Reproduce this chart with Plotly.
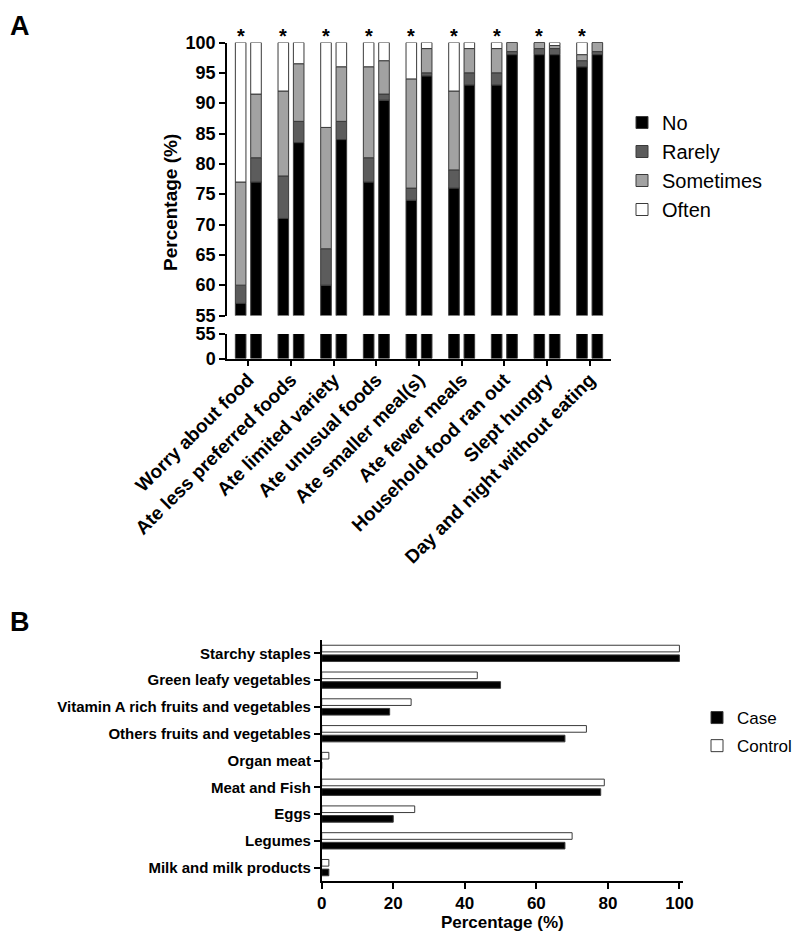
import plotly.graph_objects as go

# Target image size; the page body adds an 8px margin, so the figure is drawn slightly smaller
W, H = 800, 942
OFF = 8
FW, FH = W - OFF, H - OFF

# ---------------- Panel A data ----------------
items = ["Worry about food", "Ate less preferred foods", "Ate limited variety",
         "Ate unusual foods", "Ate smaller meal(s)", "Ate fewer meals",
         "Household food ran out", "Slept hungry", "Day and night without eating"]
responses = ["No", "Rarely", "Sometimes", "Often"]

case_no = [57, 71, 60, 77, 74, 76, 93, 98, 96]
case_rarely = [3, 7, 6, 4, 2, 3, 2, 1, 1]
case_sometimes = [17, 14, 20, 15, 18, 13, 4, 1, 1]
case_often = [23, 8, 14, 4, 6, 8, 1, 0, 2]

control_no = [77, 83.5, 84, 90.5, 94.5, 93, 98, 98, 98]
control_rarely = [4, 3.5, 3, 1, 0.5, 2, 0.5, 1, 0.5]
control_sometimes = [10.5, 9.5, 9, 5.5, 4, 4, 1.5, 0.5, 1.5]
control_often = [8.5, 3.5, 4, 3, 1, 1, 0, 0.5, 0]

significant = [True, True, True, True, True, True, True, True, True]

upper_ticks = [55, 60, 65, 70, 75, 80, 85, 90, 95, 100]
lower_ticks = [0, 55]

# ---------------- Panel B data ----------------
food_groups = ["Starchy staples", "Green leafy vegetables",
               "Vitamin A rich fruits and vegetables", "Others fruits and vegetables",
               "Organ meat", "Meat and Fish", "Eggs", "Legumes", "Milk and milk products"]
case_pct = [100, 50, 19, 68, 0, 78, 20, 68, 2]
control_pct = [100, 43.5, 25, 74, 2, 79, 26, 70, 2]
b_ticks = [0, 20, 40, 60, 80, 100]

# ---------------- styling ----------------
FONT = "Liberation Sans, Arial, sans-serif"
colors = {"No": "#000000", "Rarely": "#5c5c5c", "Sometimes": "#a2a2a2", "Often": "#ffffff"}
OUTLINE = dict(color="#3a3a3a", width=1)

def px_x(p):
    return (p - OFF) / FW

def px_y(p):
    return 1 - (p - OFF) / FH

fig = go.Figure()

case_vals = {"No": case_no, "Rarely": case_rarely, "Sometimes": case_sometimes, "Often": case_often}
ctrl_vals = {"No": control_no, "Rarely": control_rarely, "Sometimes": control_sometimes, "Often": control_often}

def stack_bases(vals):
    bases = {}
    run = [0] * len(items)
    for r in responses:
        bases[r] = list(run)
        run = [a + b for a, b in zip(run, vals[r])]
    return bases

case_base = stack_bases(case_vals)
ctrl_base = stack_bases(ctrl_vals)

for i, r in enumerate(responses):
    fig.add_trace(go.Bar(x=items, y=case_vals[r], base=case_base[r], name=r,
                         offsetgroup="case", marker=dict(color=colors[r], line=OUTLINE),
                         xaxis="x", yaxis="y", legend="legend", legendgroup=r,
                         legendrank=i + 1, showlegend=True))
    fig.add_trace(go.Bar(x=items, y=ctrl_vals[r], base=ctrl_base[r], name=r,
                         offsetgroup="control", marker=dict(color=colors[r], line=OUTLINE),
                         xaxis="x", yaxis="y", legendgroup=r, showlegend=False))

# lower (broken) segment: 0-55
fig.add_trace(go.Bar(x=items, y=case_no, name="No", offsetgroup="case",
                     marker=dict(color=colors["No"], line=OUTLINE),
                     xaxis="x", yaxis="y2", legendgroup="No", showlegend=False))
fig.add_trace(go.Bar(x=items, y=control_no, name="No", offsetgroup="control",
                     marker=dict(color=colors["No"], line=OUTLINE),
                     xaxis="x", yaxis="y2", legendgroup="No", showlegend=False))

# Panel B
fig.add_trace(go.Bar(y=food_groups, x=control_pct, name="Control", orientation="h",
                     offsetgroup="ctrl", marker=dict(color="#ffffff", line=OUTLINE),
                     xaxis="x2", yaxis="y3", legend="legend2", legendrank=2,
                     legendgroup="Control"))
fig.add_trace(go.Bar(y=food_groups, x=case_pct, name="Case", orientation="h",
                     offsetgroup="case", marker=dict(color="#000000", line=OUTLINE),
                     xaxis="x2", yaxis="y3", legend="legend2", legendrank=1,
                     legendgroup="Case"))

# geometry (target pixels)
ax_left, ax_right = 227, 611
up_top, up_bot = 42.5, 315.5
lo_top, lo_bot = 334, 358.5
bargap = 0.28

axis_common = dict(showline=True, linecolor="black", linewidth=1.5, ticks="outside",
                   ticklen=6, tickwidth=1.5, tickcolor="black", showgrid=False,
                   zeroline=False, mirror=False)

fig.update_layout(
    width=FW, height=FH, margin=dict(l=0, r=0, t=0, b=0, autoexpand=False),
    plot_bgcolor="white", paper_bgcolor="white",
    font=dict(family=FONT, color="black"),
    barmode="group", bargap=bargap, bargroupgap=0.31,
    xaxis=dict(domain=[px_x(ax_left), px_x(ax_right)], anchor="y2", type="category",
               tickangle=-45, tickfont=dict(size=19, weight="bold", family=FONT),
               ticklabelstandoff=-5,
               range=[-0.5, len(items) - 0.5], **axis_common),
    yaxis=dict(domain=[px_y(up_bot), px_y(up_top)], anchor="x", range=[55, 100],
               tickvals=upper_ticks, tickfont=dict(size=18, weight="bold", family=FONT),
               **axis_common),
    yaxis2=dict(domain=[px_y(lo_bot), px_y(lo_top)], anchor="x", range=[0, 55],
                tickvals=lower_ticks, tickfont=dict(size=18, weight="bold", family=FONT),
                **axis_common),
    xaxis2=dict(domain=[px_x(321.7), px_x(683)], anchor="y3", range=[0, 101],
                tickvals=b_ticks, tickfont=dict(size=17, weight="bold", family=FONT),
                title=dict(text="Percentage (%)", font=dict(size=17, weight="bold", family=FONT),
                           standoff=3),
                **axis_common),
    yaxis3=dict(domain=[px_y(881), px_y(640)], anchor="x2", type="category",
                range=[len(food_groups) - 0.5, -0.5],
                tickfont=dict(size=15, weight="bold", family=FONT), **axis_common),
    legend=dict(x=px_x(622), y=px_y(103), xanchor="left", yanchor="top",
                font=dict(size=20, family=FONT), traceorder="grouped", tracegroupgap=0,
                bgcolor="rgba(0,0,0,0)"),
    legend2=dict(x=px_x(697), y=px_y(700), xanchor="left", yanchor="top",
                 font=dict(size=17, family=FONT), traceorder="grouped", tracegroupgap=3,
                 bgcolor="rgba(0,0,0,0)"),
)

annotations = []
cat_w = (ax_right - ax_left) / len(items)
case_shift = -(1 - bargap) * cat_w / 4
for it, sig in zip(items, significant):
    if sig:
        annotations.append(dict(x=it, y=100, xref="x", yref="y", text="<b>*</b>",
                                showarrow=False, yanchor="bottom", xshift=case_shift,
                                yshift=-7, font=dict(size=20, family=FONT)))
annotations.append(dict(x=px_x(170), y=px_y(203), xref="paper", yref="paper",
                        text="<b>Percentage (%)</b>", textangle=-90, showarrow=False,
                        xanchor="center", yanchor="middle",
                        font=dict(size=19, family=FONT)))
annotations.append(dict(x=px_x(20), y=px_y(26), xref="paper", yref="paper",
                        text="<b>A</b>", showarrow=False, xanchor="center", yanchor="middle",
                        font=dict(size=27, family=FONT)))
annotations.append(dict(x=px_x(20), y=px_y(622), xref="paper", yref="paper",
                        text="<b>B</b>", showarrow=False, xanchor="center", yanchor="middle",
                        font=dict(size=27, family=FONT)))
fig.update_layout(annotations=annotations)

fig.write_html("out.html")
